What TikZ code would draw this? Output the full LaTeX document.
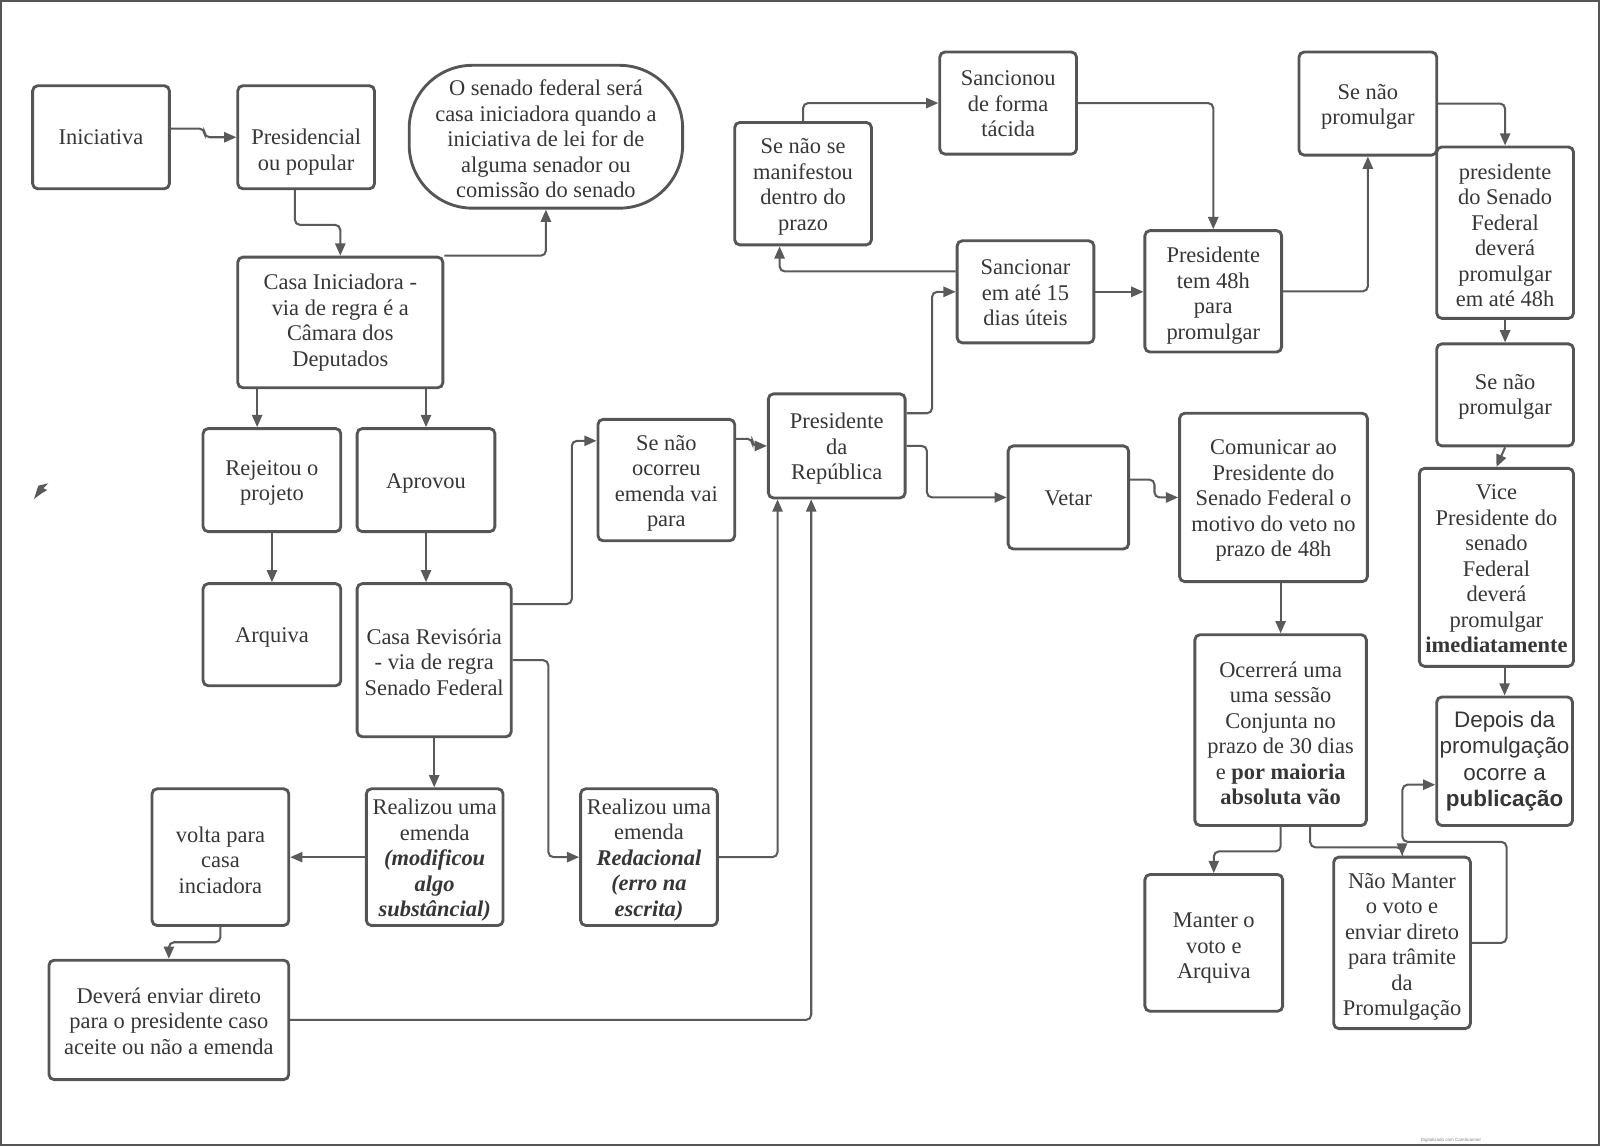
\documentclass[tikz,border=0pt]{standalone}
\usepackage{fontspec}
\setmainfont{Liberation Serif}
\setsansfont{Liberation Sans}
\usetikzlibrary{arrows.meta}
\definecolor{edge}{HTML}{555555}
\definecolor{ink}{HTML}{363636}
\definecolor{wire}{HTML}{5A5A5A}
\tikzset{
 box/.style={draw=edge, line width=1.4pt, rounded corners=2.5pt, inner sep=0pt},
 txt/.style={inner sep=0pt, align=center, text=ink, font=\fontsize{11pt}{12.5pt}\selectfont},
 stadium/.style={rounded corners=31pt},
 sansbox/.style={font=\sffamily\fontsize{11pt}{13pt}\selectfont},
 conn/.style={draw=wire, line width=1pt, rounded corners=2.5pt, -{Triangle[length=6pt,width=5pt]}},
}
% \bx[style]{name}{L}{T}{R}{B}{text}{text offset in pt}
\newcommand{\bx}[8][]{%
 \node[box,#1, minimum width={(#5-#3)*0.5pt}, minimum height={(#6-#4)*0.5pt}] (#2) at ({(#3+#5)/2},{-(#4+#6)/2}) {};
 \node[txt,#1] (#2t) at ([yshift=#8pt]#2.center) {#7};}
\newcommand{\bi}[1]{{\bfseries\itshape #1}}
\begin{document}
\begin{tikzpicture}[x=0.5pt,y=0.5pt]
\useasboundingbox (0,0) rectangle (1568,-1123);
\draw[edge, line width=0.8pt] (0.8,-0.8) rectangle (1567.2,-1122.2);

\bx{ini}{32}{84}{166}{185}{Iniciativa}{0}
\bx{pres}{233}{84}{367}{185}{Presidencial\\ou popular}{-7.25}
\bx[stadium]{sen}{401}{64}{669}{204}{O senado federal será\\casa iniciadora quando a\\iniciativa de lei for de\\alguma senador ou\\comissão do senado}{-1}
\bx{ci}{233}{252}{434}{380}{Casa Iniciadora -\\via de regra é a\\Câmara dos\\Deputados}{0}
\bx{rej}{199}{420}{334}{521}{Rejeitou o\\projeto}{-1.5}
\bx{apr}{350}{420}{485}{521}{Aprovou}{-1.5}
\bx{arq}{199}{572}{334}{672}{Arquiva}{-1.5}
\bx{cr}{350}{572}{501}{722}{Casa Revisória\\- via de regra\\Senado Federal}{-1}
\bx{sno}{586}{411}{720}{530}{Se não\\ocorreu\\emenda vai\\para}{-1.5}
\bx{pr}{753}{386}{887}{488}{Presidente\\da\\República}{-1.5}
\bx{rem}{359}{773}{493}{907}{Realizou uma\\emenda\\\bi{(modificou}\\\bi{algo}\\\bi{substâncial)}}{-1.5}
\bx{red}{569}{773}{703}{907}{Realizou uma\\emenda\\\bi{Redacional}\\\bi{(erro na}\\\bi{escrita)}}{-1.25}
\bx{vol}{149}{773}{283}{907}{volta para\\casa\\inciadora}{-1.5}
\bx{dev}{48}{941}{283}{1058}{Deverá enviar direto\\para o presidente caso\\aceite ou não a emenda}{-0.5}
\bx{snm}{720}{120}{854}{240}{Se não se\\manifestou\\dentro do\\prazo}{-1.5}
\bx{stac}{921}{51}{1055}{151}{Sancionou\\de forma\\tácida}{-0.5}
\bx{sanc}{938}{236}{1072}{336}{Sancionar\\em até 15\\dias úteis}{-0.5}
\bx{p48}{1122}{226}{1256}{345}{Presidente\\tem 48h\\para\\promulgar}{-2}
\bx{snp1}{1273}{51}{1408}{152}{Se não\\promulgar}{-1.5}
\bx{psf}{1408}{144}{1542}{312}{presidente\\do Senado\\Federal\\deverá\\promulgar\\em até 48h}{-1.25}
\bx{snp2}{1408}{337}{1542}{437}{Se não\\promulgar}{-1}
\bx{vice}{1391}{459}{1542}{653}{Vice\\Presidente do\\senado\\Federal\\deverá\\promulgar\\\textbf{imediatamente}}{-0.75}
\bx[sansbox]{dep}{1408}{683}{1541}{809}{Depois da\\promulgação\\ocorre a\\\textbf{publicação}}{0}
\bx{vet}{988}{437}{1106}{538}{Vetar}{-0.5}
\bx{com}{1156}{405}{1340}{570}{Comunicar ao\\Presidente do\\Senado Federal o\\motivo do veto no\\prazo de 48h}{-1.5}
\bx{oc}{1171}{622}{1339}{809}{Ocerrerá uma\\uma sessão\\Conjunta no\\prazo de 30 dias\\e \textbf{por maioria}\\\textbf{absoluta vão}}{-1.5}
\bx{man}{1122}{857}{1257}{991}{Manter o\\voto e\\Arquiva}{-2.75}
\bx{nman}{1307}{840}{1441}{1008}{Não Manter\\o voto e\\enviar direto\\para trâmite\\da\\Promulgação}{-2}

\draw[conn] ([yshift=4.25pt]ini.east) -- ++(33,0) |- (pres.west);
\draw[conn] ([xshift=-5.5pt]pres.south) -- ++(0,-34) -| (ci.north);
\draw[conn] (ci.north east) -| (sen.south);
\draw[conn] ([xshift=-40.75pt]ci.south) -- ([xshift=-7.25pt]rej.north);
\draw[conn] (ci.south -| apr.north) -- (apr.north);
\draw[conn] (rej.south) -- (arq.north);
\draw[conn] (apr.south) -- (apr.south |- cr.north);
\draw[conn] ([yshift=27.5pt]cr.east) -- ++(58,0) |- ([yshift=19.25pt]sno.west);
\draw[conn] ([yshift=20.25pt]sno.east) -- ++(16,0) |- (pr.west);
\draw[conn] (cr.south) -- (cr.south |- rem.north);
\draw[conn] (cr.east) -- ++(35,0) |- (red.west);
\draw[conn] (rem.west) -- (vol.east);
\draw[conn] (red.east) -| ([xshift=-29pt]pr.south);
\draw[conn] (vol.south) -- ++(0,-15) -| (dev.north);
\draw[conn] (dev.east) -| ([xshift=-12.5pt]pr.south);
\draw[conn] ([yshift=16pt]pr.east) -- ++(25,0) |- (sanc.west);
\draw[conn] (pr.east) -- ++(20,0) |- (vet.west);
\draw[conn] ([yshift=10pt]sanc.west) -| ([xshift=-11.5pt]snm.south);
\draw[conn] (snm.north) |- (stac.west);
\draw[conn] (stac.east) -| (p48.north);
\draw[conn] (sanc.east) -- (sanc.east -| p48.west);
\draw[conn] (p48.east) -| (snp1.south);
\draw[conn] (snp1.east) -| (psf.north);
\draw[conn] (psf.south) -- (snp2.north);
\draw[conn] (snp2.south) -- (vice.north);
\draw[conn] (vice.south -| dep.north) -- (dep.north);
\draw[conn] ([yshift=8.75pt]vet.east) -- ++(24,0) |- (com.west);
\draw[conn] (com.south -| oc.north) -- (oc.north);
\draw[conn] (oc.south) -- ++(0,-24) -| (man.north);
\draw[conn] ([xshift=14.5pt]oc.south) -- ++(0,-20) -| (nman.north);
\draw[conn] (nman.east) -- ++(34,0) -- ++(0,99) -- ++(-102,0) |- ([yshift=-11.5pt]dep.west);

\fill[wire] (33.3,-489) -- (37.5,-476) -- (47.4,-473.6) -- (42.5,-478.5) -- (46.3,-480.2) -- (40.8,-483.5) -- cycle;
\node[font=\sffamily\fontsize{2.2pt}{2.6pt}\selectfont, text=gray] (wm) at (1422,-1118) {Digitalizado com CamScanner};
\end{tikzpicture}
\end{document}
